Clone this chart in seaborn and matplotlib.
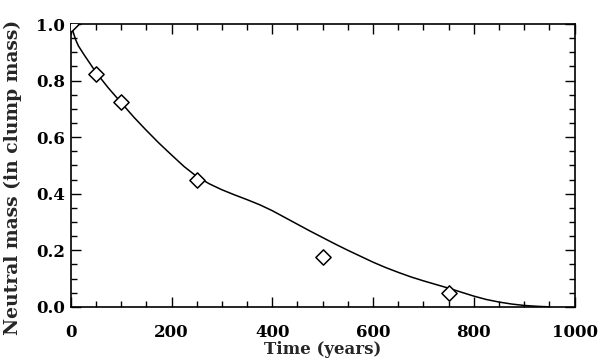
import numpy as np
import pandas as pd
import matplotlib
matplotlib.use("Agg")
import matplotlib.pyplot as plt
from matplotlib.ticker import MultipleLocator
import seaborn as sns

# model curve
curve_time = [0, 5, 10, 15, 25, 50, 75, 100, 125, 150, 175, 200, 225, 250, 275,
              300, 325, 350, 375, 400, 425, 450, 475, 500, 525, 550, 575, 600,
              625, 650, 675, 700, 725, 750, 775, 800, 825, 850, 875, 900, 925,
              950]
curve_mass = [1.000, 0.970, 0.943, 0.923, 0.895, 0.829, 0.773, 0.722, 0.671,
              0.624, 0.579, 0.537, 0.496, 0.461, 0.435, 0.414, 0.396, 0.379,
              0.361, 0.340, 0.316, 0.292, 0.268, 0.245, 0.222, 0.200, 0.179,
              0.158, 0.139, 0.122, 0.106, 0.092, 0.079, 0.066, 0.052, 0.038,
              0.026, 0.017, 0.010, 0.005, 0.002, 0.000]

# simulation points (diamonds)
point_time = [0, 50, 100, 250, 500, 750]
point_mass = [1.0, 0.825, 0.726, 0.450, 0.176, 0.048]

x_ticks = [0, 200, 400, 600, 800, 1000]
y_ticks = [0.0, 0.2, 0.4, 0.6, 0.8, 1.0]

sns.set_theme(style="ticks")
plt.rcParams["font.family"] = ["DejaVu Serif"]
plt.rcParams["font.weight"] = "bold"

curve = pd.DataFrame({"time": curve_time, "mass": curve_mass})
points = pd.DataFrame({"time": point_time, "mass": point_mass})

fig = plt.figure(figsize=(6.0, 3.64), dpi=100)
ax = fig.add_axes([0.118, 0.157, 0.8395, 0.777])

sns.lineplot(data=curve, x="time", y="mass", ax=ax, color="black", linewidth=1.1)
sns.scatterplot(data=points, x="time", y="mass", ax=ax, marker="D", s=60,
                facecolor="white", edgecolor="black", linewidth=1.1, zorder=3)

ax.set_xlim(0, 1000)
ax.set_ylim(0, 1.0)
ax.set_xticks(x_ticks)
ax.set_yticks(y_ticks)
ax.set_xticklabels([str(t) for t in x_ticks])
ax.set_yticklabels([f"{t:.1f}" for t in y_ticks])
ax.xaxis.set_minor_locator(MultipleLocator(50))
ax.yaxis.set_minor_locator(MultipleLocator(0.05))
ax.tick_params(which="both", direction="in", top=True, right=True,
               colors="black", width=1.0, labelsize=12)
ax.tick_params(which="major", length=7)
ax.tick_params(which="minor", length=4)
ax.tick_params(axis="x", which="major", pad=12)
ax.tick_params(axis="y", which="major", pad=4)
for sp in ax.spines.values():
    sp.set_visible(True)
    sp.set_linewidth(1.2)
    sp.set_color("black")

ax.set_xlabel("Time (years)", fontsize=12, fontweight="bold", labelpad=0)
ax.set_ylabel("Neutral mass (in clump mass)", fontsize=13.5, fontweight="bold")
ax.yaxis.set_label_coords(-0.097, 0.456)

fig.savefig("out.png", dpi=100)
